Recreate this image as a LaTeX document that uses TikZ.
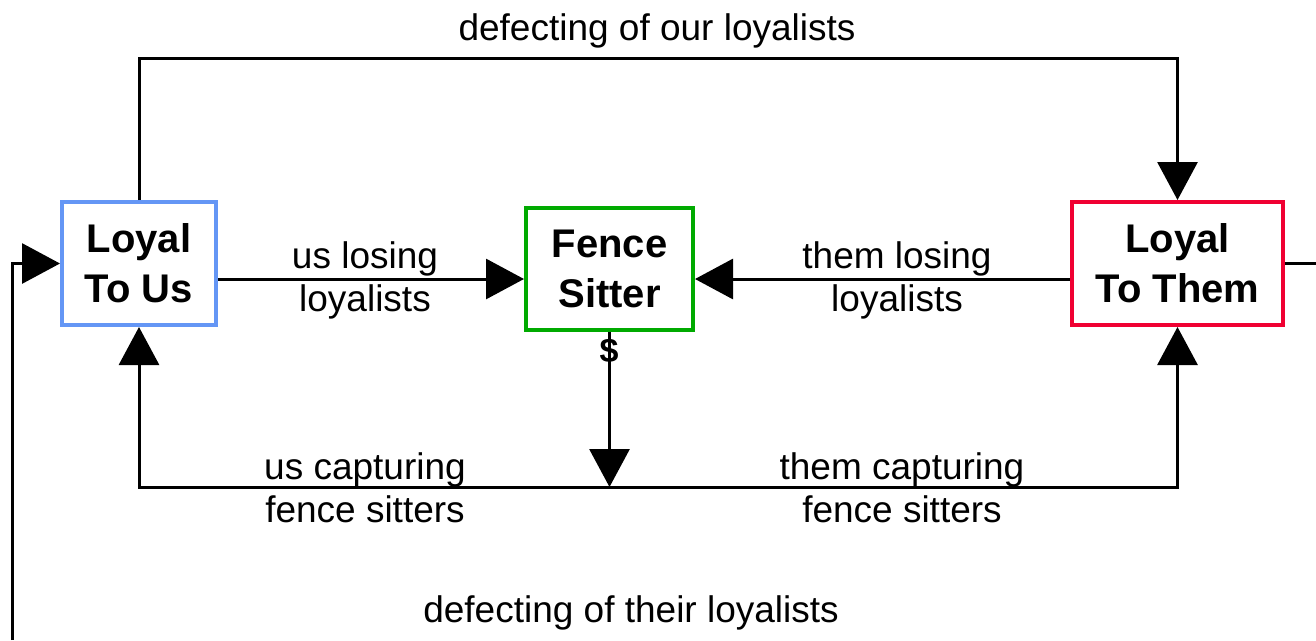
\documentclass[tikz,border=0pt]{standalone}
\usepackage{fontspec}
\setmainfont{Liberation Sans}
\usetikzlibrary{arrows.meta}
\definecolor{usblue}{RGB}{100,150,245}
\definecolor{fsgreen}{RGB}{0,170,0}
\definecolor{themred}{RGB}{240,0,50}
\begin{document}
\begin{tikzpicture}[x=1pt,y=-1pt,
  stock/.style={draw, line width=4pt, fill=white, align=center, inner sep=0pt,
    font=\fontsize{40}{50}\selectfont\bfseries},
  lbl/.style={align=center, inner sep=0pt, font=\fontsize{37}{43}\selectfont},
  flow/.style={line width=3pt, -{Triangle[length=38pt,width=40pt]}},
  plain/.style={line width=3pt}]
\useasboundingbox (0,0) rectangle (1316,640);
\node[stock, draw=usblue, minimum width=154pt, minimum height=123pt] (lu) at (139,263.5) {Loyal\\To Us};
\node[stock, draw=fsgreen, minimum width=167pt, minimum height=122pt] (fs) at (609.5,269) {Fence\\Sitter};
\node[stock, draw=themred, minimum width=211pt, minimum height=123pt] (lt) at (1177.5,263.5) {Loyal\\To Them};
\coordinate (topy) at (0,58);
\coordinate (midy) at (0,279);
\coordinate (j) at (609.5,487);
\coordinate (bl) at (12,640);
\coordinate (br) at (1316,263.5);
% top loop
\draw[flow] (lu.north) -- (lu.north |- topy) -| (lt.north);
% losing flows
\draw[flow] (lu.east |- midy) -- (fs.west |- midy);
\draw[flow] (lt.west |- midy) -- (fs.east |- midy);
% $ flow
\draw[flow] (fs.south) -- (j);
\draw[flow] (j) -| (lu.south);
\draw[flow] (j) -| (lt.south);
% outer loop pieces
\draw[flow] (bl) |- (lu.west);
\draw[plain] (lt.east) -- (br);
% labels
\node[lbl] (l1) at (657,31) {defecting of our loyalists};
\node[lbl] (l2) at (365,280) {us losing\\loyalists};
\node[lbl] (l3) at (897,280) {them losing\\loyalists};
\node[inner sep=0pt, font=\fontsize{34}{40}\selectfont\bfseries] (l4) at (609,351) {\$};
\node[lbl] (l5) at (365,488) {us capturing\\fence sitters};
\node[lbl] (l6) at (902,488) {them capturing\\fence sitters};
\node[lbl] (l7) at (631,613) {defecting of their loyalists};
\end{tikzpicture}
\end{document}
